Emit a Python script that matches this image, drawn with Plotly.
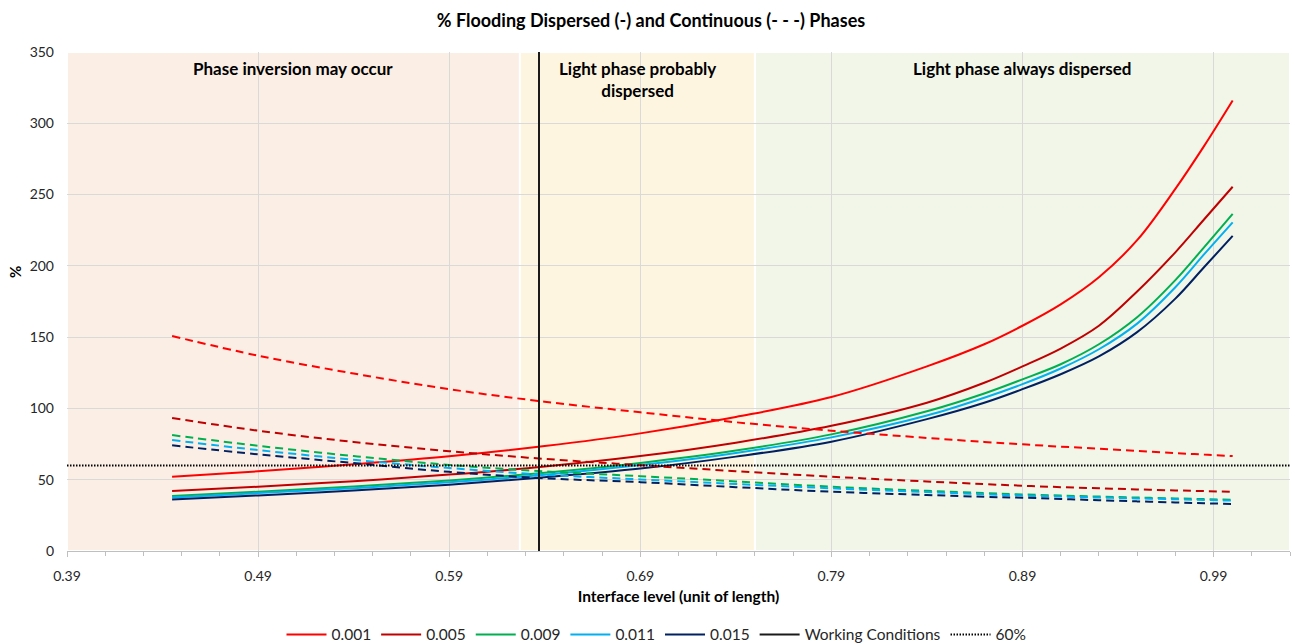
import plotly.graph_objects as go

# Interface level (unit of length)
level = [0.445, 0.49, 0.54, 0.59, 0.64, 0.69, 0.74, 0.79, 0.84, 0.87, 0.89, 0.91, 0.93, 0.95, 0.97, 0.985, 1.00]

# % flooding, dispersed phase (solid lines)
disp_0001 = [52.1, 55.9, 60.8, 66.4, 73.6, 82.5, 94.0, 108.0, 129.5, 145.0, 158.0, 173.0, 192.0, 218.0, 254.0, 284.0, 316.0]
disp_0005 = [42.0, 45.1, 49.0, 53.6, 59.3, 66.6, 76.0, 87.8, 104.0, 118.0, 129.5, 142.0, 158.0, 182.0, 209.5, 232.5, 255.5]
disp_0009 = [38.6, 41.6, 45.2, 49.5, 54.8, 61.8, 70.5, 81.8, 98.0, 110.5, 120.4, 131.0, 145.0, 164.0, 190.0, 213.0, 236.5]
disp_0011 = [37.6, 40.6, 44.1, 48.3, 53.5, 60.3, 68.8, 79.7, 95.0, 107.5, 117.0, 128.0, 141.5, 159.5, 185.0, 208.0, 230.5]
disp_0015 = [36.2, 39.0, 42.5, 46.5, 51.7, 57.8, 66.2, 76.7, 92.5, 104.0, 113.5, 124.0, 136.5, 153.5, 177.0, 199.0, 221.0]

# % flooding, continuous phase (dashed lines)
cont_0001 = [150.8, 137.0, 124.5, 113.5, 104.7, 97.3, 90.3, 84.4, 79.3, 76.5, 74.8, 73.2, 71.8, 70.2, 68.7, 67.6, 66.6]
cont_0005 = [93.3, 84.4, 76.5, 70.0, 64.6, 60.2, 56.0, 52.1, 48.8, 46.9, 45.8, 44.8, 44.0, 43.2, 42.5, 42.0, 41.5]
cont_0009 = [81.3, 73.8, 66.6, 60.4, 55.8, 52.5, 48.8, 45.1, 42.2, 40.6, 39.7, 38.9, 38.2, 37.5, 36.9, 36.4, 36.0]
cont_0011 = [77.8, 70.8, 64.0, 58.2, 53.5, 50.2, 47.0, 44.0, 41.3, 39.8, 38.9, 38.2, 37.5, 36.9, 36.3, 35.8, 35.3]
cont_0015 = [74.1, 67.8, 61.7, 55.5, 51.0, 48.3, 44.8, 41.6, 39.3, 38.0, 37.4, 36.5, 35.6, 34.8, 34.1, 33.5, 33.0]

series_names = ["0.001", "0.005", "0.009", "0.011", "0.015"]
series_colors = ["#FF0000", "#C00000", "#00B050", "#00B0F0", "#002060"]
dispersed = [disp_0001, disp_0005, disp_0009, disp_0011, disp_0015]
continuous = [cont_0001, cont_0005, cont_0009, cont_0011, cont_0015]

# Working point and flooding limit
working_level = [0.637, 0.637]
working_pct = [0, 350]
limit_level = [0.39, 1.03]
limit_pct = [60, 60]

# Flow regime zones (interface level bounds)
zone_bounds = [(0.39, 0.627), (0.627, 0.75), (0.75, 1.03)]
zone_colors = ["#FBEEE5", "#FEF5E0", "#F1F6E9"]
zone_labels = ["Phase inversion may occur", "Light phase probably<br>dispersed", "Light phase always dispersed"]

FONT = "Lato, 'Open Sans', sans-serif"

fig = go.Figure()

for name, color, ys in zip(series_names, series_colors, dispersed):
    fig.add_trace(go.Scatter(x=level, y=ys, mode="lines", name=name,
                             line=dict(color=color, width=2, shape="spline", smoothing=1.0)))

for name, color, ys in zip(series_names, series_colors, continuous):
    fig.add_trace(go.Scatter(x=level, y=ys, mode="lines", name=name + " (continuous)",
                             showlegend=False,
                             line=dict(color=color, width=2, dash="8px,5px", shape="spline", smoothing=1.0)))

fig.add_trace(go.Scatter(x=working_level, y=working_pct, mode="lines", name="Working Conditions",
                         line=dict(color="#1A1A1A", width=2)))
fig.add_trace(go.Scatter(x=limit_level, y=limit_pct, mode="lines", name="60%",
                         line=dict(color="#000000", width=2, dash="1.5px,1.5px")))

for (x0, x1), c in zip(zone_bounds, zone_colors):
    fig.add_shape(type="rect", xref="x", yref="y", x0=x0, x1=x1, y0=0, y1=350,
                  fillcolor=c, line=dict(color="#FFFFFF", width=2), layer="below")

for (x0, x1), txt in zip(zone_bounds, zone_labels):
    fig.add_annotation(x=(x0 + x1) / 2, y=347, xref="x", yref="y", text="<b>" + txt + "</b>",
                       showarrow=False, yanchor="top", xanchor="center",
                       font=dict(family=FONT, size=17, color="#000000"))

fig.add_annotation(x=-52 / 1223, y=0.559, xref="paper", yref="paper", text="<b>%</b>",
                   showarrow=False, textangle=-90, xanchor="center", yanchor="middle",
                   font=dict(family=FONT, size=15, color="#000000"))

fig.update_layout(
    width=1294, height=643,
    margin=dict(l=67, r=4, t=52, b=92, autoexpand=False),
    paper_bgcolor="#FFFFFF", plot_bgcolor="#FFFFFF",
    font=dict(family=FONT, size=14, color="#262626"),
    title=dict(text="<b>% Flooding Dispersed (-) and Continuous (- - -) Phases</b>",
               x=651 / 1294, xref="container", xanchor="center",
               y=1 - 21 / 643, yref="container", yanchor="middle",
               font=dict(family=FONT, size=18, color="#000000")),
    showlegend=True,
    legend=dict(orientation="h", x=0.5 - 22 / 1223, xanchor="center", y=-0.168, yanchor="middle",
                font=dict(family=FONT, size=15.5, color="#262626"),
                itemwidth=40, tracegroupgap=0),
    xaxis=dict(range=[0.39, 1.03], tick0=0.39, dtick=0.1, tickformat=".2f",
               showgrid=True, gridcolor="#D9D9D9", gridwidth=1,
               showline=True, linecolor="#BFBFBF", linewidth=1,
               ticks="outside", ticklen=5, tickcolor="#BFBFBF", ticklabelstandoff=7,
               minor=dict(dtick=0.02, tick0=0.39, ticks="outside", ticklen=4, tickcolor="#BFBFBF", showgrid=False),
               zeroline=False,
               title=dict(text="<b>Interface level (unit of length)</b>", standoff=8,
                          font=dict(family=FONT, size=15.5, color="#000000"))),
    yaxis=dict(range=[0, 350], dtick=50, showgrid=True, gridcolor="#D9D9D9", gridwidth=1,
               zeroline=False, showline=False, ticks="", ticklabelstandoff=12),
)

fig.write_html("out.html")
